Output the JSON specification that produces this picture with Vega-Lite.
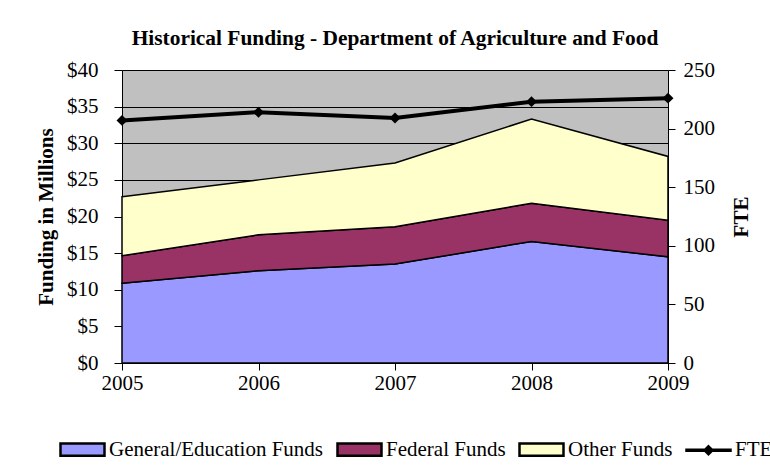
{
  "$schema": "https://vega.github.io/schema/vega-lite/v6.json",
  "width": 546,
  "height": 293,
  "autosize": {"type": "none"},
  "padding": {"left": 122, "top": 70, "right": 102, "bottom": 111},
  "background": "white",
  "title": {
    "text": "Historical Funding - Department of Agriculture and Food",
    "font": "Liberation Serif",
    "fontSize": 21.4,
    "fontWeight": "bold",
    "color": "black",
    "anchor": "middle",
    "offset": 10
  },
  "datasets": {
    "funds": [
      {"year": 2005, "series": "General/Education Funds", "k": 1, "funding": 10.9},
      {"year": 2006, "series": "General/Education Funds", "k": 1, "funding": 12.6},
      {"year": 2007, "series": "General/Education Funds", "k": 1, "funding": 13.5},
      {"year": 2008, "series": "General/Education Funds", "k": 1, "funding": 16.6},
      {"year": 2009, "series": "General/Education Funds", "k": 1, "funding": 14.5},
      {"year": 2005, "series": "Federal Funds", "k": 2, "funding": 3.75},
      {"year": 2006, "series": "Federal Funds", "k": 2, "funding": 4.9},
      {"year": 2007, "series": "Federal Funds", "k": 2, "funding": 5.1},
      {"year": 2008, "series": "Federal Funds", "k": 2, "funding": 5.2},
      {"year": 2009, "series": "Federal Funds", "k": 2, "funding": 5.0},
      {"year": 2005, "series": "Other Funds", "k": 3, "funding": 8.05},
      {"year": 2006, "series": "Other Funds", "k": 3, "funding": 7.5},
      {"year": 2007, "series": "Other Funds", "k": 3, "funding": 8.7},
      {"year": 2008, "series": "Other Funds", "k": 3, "funding": 11.5},
      {"year": 2009, "series": "Other Funds", "k": 3, "funding": 8.7}
    ],
    "fte": [
      {"year": 2005, "fte": 207},
      {"year": 2006, "fte": 214},
      {"year": 2007, "fte": 209},
      {"year": 2008, "fte": 223},
      {"year": 2009, "fte": 226}
    ]
  },
  "encoding": {
    "x": {
      "field": "year",
      "type": "quantitative",
      "scale": {"domain": [2005, 2009], "nice": false, "zero": false},
      "axis": {
        "values": [2005, 2006, 2007, 2008, 2009],
        "format": "d",
        "title": null,
        "grid": false,
        "tickSize": 7,
        "labelPadding": 2,
        "labelFlush": false
      }
    }
  },
  "layer": [
    {
      "data": {"name": "funds"},
      "mark": {"type": "area", "stroke": "black", "strokeWidth": 1.5, "opacity": 1, "fillOpacity": 1},
      "encoding": {
        "y": {
          "field": "funding",
          "type": "quantitative",
          "stack": "zero",
          "scale": {"domain": [0, 40], "nice": false},
          "axis": {
            "orient": "left",
            "title": "Funding in Millions",
            "values": [0, 5, 10, 15, 20, 25, 30, 35, 40],
            "labelExpr": "'$' + datum.value",
            "grid": true,
            "gridColor": "black",
            "gridWidth": 1,
            "tickSize": 8,
            "labelPadding": 16,
            "titlePadding": 10
          }
        },
        "order": {"field": "k", "type": "quantitative", "sort": "ascending"},
        "fill": {
          "field": "series",
          "type": "nominal",
          "scale": {
            "domain": ["General/Education Funds", "Federal Funds", "Other Funds", "FTE"],
            "range": ["#9999FF", "#993366", "#FFFFCC", "#000000"]
          },
          "legend": {
            "orient": "none",
            "legendX": -63,
            "legendY": 356,
            "direction": "horizontal",
            "title": null,
            "padding": 0,
            "symbolType": "M-1,-0.28H1V0.28H-1Z",
            "symbolSize": 1936,
            "symbolStrokeColor": "black",
            "symbolStrokeWidth": 2.5,
            "symbolOpacity": 1,
            "labelFont": "Liberation Serif",
            "labelFontSize": 21,
            "labelColor": "black",
            "labelOffset": 3,
            "columnPadding": 8,
            "labelLimit": 400,
            "encode": {
              "symbols": {
                "update": {
                  "shape": {"signal": "datum.value === 'FTE' ? 'M-1,-0.02H1V0.02H-1Z M0,-0.18L0.18,0L0,0.18L-0.18,0Z' : 'M-1,-0.28H1V0.28H-1Z'"},
                  "stroke": {"value": "black"},
                  "strokeWidth": {"value": 2.5}
                }
              }
            }
          }
        }
      }
    },
    {
      "data": {"name": "fte"},
      "layer": [
        {
          "mark": {"type": "line", "color": "black", "strokeWidth": 4},
          "encoding": {
            "y": {
              "field": "fte",
              "type": "quantitative",
              "scale": {"domain": [0, 250], "nice": false},
              "axis": {
                "orient": "right",
                "title": "FTE",
                "values": [0, 50, 100, 150, 200, 250],
                "grid": false,
                "tickSize": 7,
                "labelPadding": 8,
                "titleAngle": 270,
                "titlePadding": 37
              }
            }
          }
        },
        {
          "mark": {"type": "point", "shape": "diamond", "size": 120, "filled": true, "color": "black", "opacity": 1},
          "encoding": {
            "y": {"field": "fte", "type": "quantitative"}
          }
        }
      ]
    }
  ],
  "resolve": {"scale": {"y": "independent"}},
  "config": {
    "font": "Liberation Serif",
    "view": {"fill": "#C0C0C0", "stroke": null},
    "axis": {
      "labelFont": "Liberation Serif",
      "labelFontSize": 21,
      "labelColor": "black",
      "titleFont": "Liberation Serif",
      "titleFontSize": 21,
      "titleFontWeight": "bold",
      "titleColor": "black",
      "domainColor": "black",
      "domainWidth": 1,
      "tickColor": "black",
      "tickWidth": 1
    }
  }
}
